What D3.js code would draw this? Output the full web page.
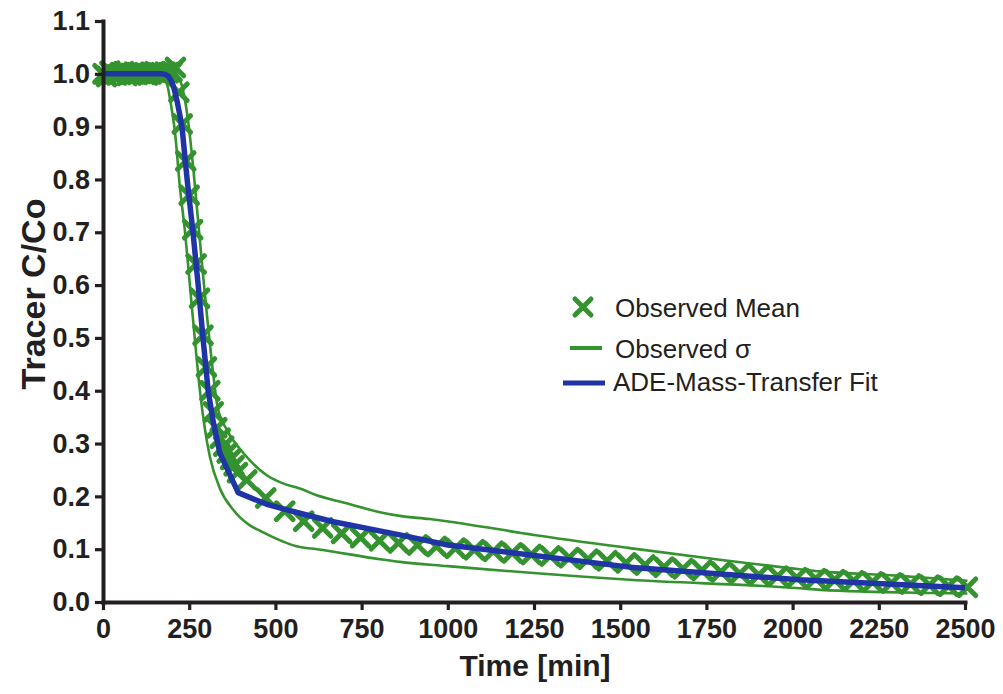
<!DOCTYPE html>
<html>
<head>
<meta charset="utf-8">
<script src="https://cdn.jsdelivr.net/npm/d3@7/dist/d3.min.js"></script>
<style>
  html, body { margin: 0; padding: 0; background: #fff; }
  svg { display: block; }
  text { font-family: "Liberation Sans", Arial, sans-serif; }
</style>
</head>
<body>
<svg id="chart" width="1003" height="694"></svg>
<script>
// Observed mean tracer concentration (C/Co) vs time [min]
const meanTime = [
  0, 10, 20, 30, 40, 50, 60, 70, 80, 90, 100, 110, 120, 130, 140, 150, 160, 170, 180, 190,
  200, 210, 220, 230, 240, 250, 260, 270, 280, 290, 300, 310, 320, 330, 340, 350, 360, 370, 380, 390,
  417, 472, 527, 582, 637, 692, 747, 802, 857, 912, 967, 1022, 1077, 1132, 1187, 1242, 1297, 1352,
  1407, 1462, 1517, 1572, 1627, 1682, 1737, 1792, 1847, 1902, 1957, 2012, 2067, 2122, 2177, 2232,
  2287, 2342, 2397, 2452, 2507
];
const meanValue = [
  1.000, 0.995, 1.005, 1.000, 0.998, 1.002, 1.004, 0.997, 1.000, 1.003, 0.999, 1.001, 1.002, 0.998, 1.000, 1.004, 1.001, 0.999, 1.003, 1.002,
  1.004, 1.012, 0.965, 0.905, 0.835, 0.770, 0.705, 0.640, 0.575, 0.505, 0.445, 0.400, 0.360, 0.330, 0.310, 0.295, 0.282, 0.270, 0.258, 0.245,
  0.231, 0.197, 0.172, 0.153, 0.140, 0.130, 0.122, 0.116, 0.112, 0.108, 0.105, 0.102, 0.099, 0.096, 0.093, 0.090, 0.087, 0.084,
  0.081, 0.078, 0.074, 0.070, 0.066, 0.063, 0.060, 0.057, 0.054, 0.051, 0.049, 0.046, 0.044, 0.042, 0.040, 0.038,
  0.036, 0.034, 0.032, 0.030, 0.028
];

// Observed mean + sigma
const upperTime = [0, 190, 205, 215, 223, 235, 247, 262, 276, 290, 305, 320, 332, 360, 397, 426, 475, 520, 571, 620, 700, 803, 861, 948, 1006, 1250, 1528, 1800, 2021, 2080, 2300, 2407, 2507];
const upperValue = [1.012, 1.012, 1.008, 0.998, 0.989, 0.960, 0.910, 0.820, 0.720, 0.620, 0.520, 0.430, 0.370, 0.325, 0.290, 0.268, 0.240, 0.225, 0.215, 0.202, 0.188, 0.170, 0.163, 0.157, 0.152, 0.127, 0.102, 0.079, 0.062, 0.058, 0.050, 0.045, 0.040];

// Observed mean - sigma
const lowerTime = [0, 175, 185, 195, 209, 223, 238, 252, 266, 281, 295, 310, 339, 377, 426, 455, 571, 620, 803, 861, 1000, 1528, 2021, 2080, 2407, 2507];
const lowerValue = [0.990, 0.990, 0.982, 0.950, 0.888, 0.786, 0.700, 0.600, 0.500, 0.400, 0.330, 0.275, 0.215, 0.175, 0.145, 0.135, 0.104, 0.100, 0.081, 0.076, 0.068, 0.042, 0.026, 0.023, 0.017, 0.016];

// ADE mass-transfer model fit
const fitTime = [0, 170, 180, 190, 198, 205, 215, 222, 229, 244, 261, 276, 290, 305, 320, 339, 392, 475, 571, 668, 861, 1000, 1528, 2021, 2500];
const fitValue = [1.000, 1.000, 0.999, 0.995, 0.987, 0.975, 0.948, 0.925, 0.900, 0.800, 0.700, 0.600, 0.500, 0.400, 0.340, 0.282, 0.207, 0.185, 0.168, 0.152, 0.127, 0.108, 0.066, 0.042, 0.027];

const xTicks = [0, 250, 500, 750, 1000, 1250, 1500, 1750, 2000, 2250, 2500];
const yTicks = [0, 0.1, 0.2, 0.3, 0.4, 0.5, 0.6, 0.7, 0.8, 0.9, 1.0, 1.1];

const legendLabels = ["Observed Mean", "Observed \u03c3", "ADE-Mass-Transfer Fit"];

const GREEN = "#34932f";
const BLUE = "#1f35a6";
const INK = "#231f20";

const svg = d3.select("#chart");

const x = d3.scaleLinear().domain([0, 2500]).range([103, 965]);
const y = d3.scaleLinear().domain([0, 1.1]).range([602, 21]);

const zip = (ts, vs) => ts.map((t, i) => [t, vs[i]]);
const line = d3.line().x(d => x(d[0])).y(d => y(d[1]));
const smoothLine = d3.line().x(d => x(d[0])).y(d => y(d[1])).curve(d3.curveMonotoneX);

// sigma envelope
[zip(upperTime, upperValue), zip(lowerTime, lowerValue)].forEach(pts => {
  svg.append("path")
    .attr("d", smoothLine(pts))
    .attr("fill", "none")
    .attr("stroke", GREEN)
    .attr("stroke-width", 2.6)
    .attr("stroke-linejoin", "round");
});

// X markers for observed mean
const crossPath = r => `M${-r},${-r}L${r},${r}M${-r},${r}L${r},${-r}`;
svg.append("g")
  .selectAll("path")
  .data(zip(meanTime, meanValue))
  .join("path")
  .attr("transform", d => `translate(${x(d[0])},${y(d[1])})`)
  .attr("d", crossPath(8.3))
  .attr("fill", "none")
  .attr("stroke", GREEN)
  .attr("stroke-width", 5)
  .attr("stroke-linecap", "round");

// model fit
svg.append("path")
  .attr("d", line(zip(fitTime, fitValue)))
  .attr("fill", "none")
  .attr("stroke", BLUE)
  .attr("stroke-width", 5.5)
  .attr("stroke-linejoin", "round");

// axes
const yAxis = d3.axisLeft(y).tickValues(yTicks).tickFormat(d3.format(".1f"))
  .tickSize(8).tickSizeOuter(0).tickPadding(5);
const xAxis = d3.axisBottom(x).tickValues(xTicks).tickFormat(d3.format("d"))
  .tickSize(8).tickSizeOuter(0).tickPadding(9);

const gy = svg.append("g").attr("transform", `translate(${x(0)},0)`).call(yAxis);
const gx = svg.append("g").attr("transform", `translate(0,${y(0)})`).call(xAxis);

[gy, gx].forEach(g => {
  g.select(".domain").attr("stroke", INK).attr("stroke-width", 4).attr("stroke-linecap", "square");
  g.selectAll(".tick line").attr("stroke", INK).attr("stroke-width", 3.2);
  g.selectAll(".tick text")
    .attr("fill", INK)
    .style("font-family", "'Liberation Sans', Arial, sans-serif")
    .style("font-size", "27px")
    .style("font-weight", "bold");
});

// axis titles
svg.append("text")
  .attr("transform", "translate(45,294) rotate(-90)")
  .attr("text-anchor", "middle")
  .attr("fill", INK)
  .style("font-size", "34px")
  .style("font-weight", "bold")
  .text("Tracer C/Co");

svg.append("text")
  .attr("x", 535)
  .attr("y", 676)
  .attr("text-anchor", "middle")
  .attr("fill", INK)
  .style("font-size", "30px")
  .style("font-weight", "bold")
  .text("Time [min]");

// legend
const legend = svg.append("g");
const rowsY = [317, 358, 391];

legend.append("path")
  .attr("transform", `translate(583,${rowsY[0] - 10})`)
  .attr("d", crossPath(8))
  .attr("fill", "none")
  .attr("stroke", GREEN)
  .attr("stroke-width", 5)
  .attr("stroke-linecap", "round");

legend.append("line")
  .attr("x1", 570).attr("x2", 602)
  .attr("y1", rowsY[1] - 10).attr("y2", rowsY[1] - 10)
  .attr("stroke", GREEN).attr("stroke-width", 4);

legend.append("line")
  .attr("x1", 563).attr("x2", 605)
  .attr("y1", rowsY[2] - 8).attr("y2", rowsY[2] - 8)
  .attr("stroke", BLUE).attr("stroke-width", 5);

legend.selectAll("text")
  .data(legendLabels)
  .join("text")
  .attr("x", (d, i) => i === 2 ? 613 : 615)
  .attr("y", (d, i) => rowsY[i])
  .attr("fill", INK)
  .style("font-size", "26px")
  .text(d => d);
</script>
</body>
</html>
